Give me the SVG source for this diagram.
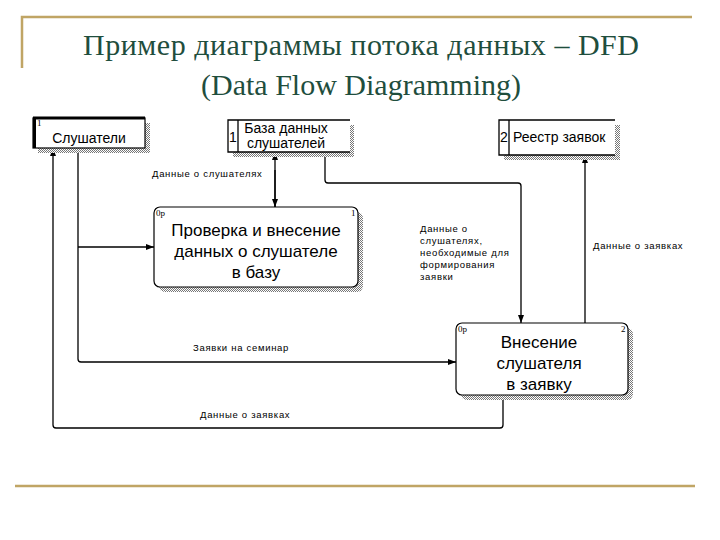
<svg xmlns="http://www.w3.org/2000/svg" width="720" height="540" viewBox="0 0 720 540">
<defs>
<pattern id="hatch" width="2" height="2" patternUnits="userSpaceOnUse">
<rect width="2" height="2" fill="#ffffff"/>
<rect width="1" height="1" fill="#777"/>
<rect x="1" y="1" width="1" height="1" fill="#777"/>
</pattern>
<marker id="arr" viewBox="0 0 8 8" refX="8" refY="4" markerWidth="8" markerHeight="8" markerUnits="userSpaceOnUse" orient="auto">
<path d="M0,1 L8,4 L0,7 Z" fill="#000"/>
</marker>
<style>
.title{font-family:"Liberation Serif",serif;font-size:30px;fill:#1f4e3d;text-anchor:middle}
.gold{stroke:#c0a565;stroke-width:2.5;fill:none}
.box{fill:#fff;stroke:#000;stroke-width:1.2}
.lbl{font-family:"Liberation Sans",Arial,sans-serif;font-size:14px;fill:#000}
.big{font-family:"Liberation Sans",Arial,sans-serif;font-size:17px;fill:#000;text-anchor:middle}
.small{font-family:"Liberation Sans",Arial,sans-serif;font-size:9.5px;fill:#000;letter-spacing:0.7px}
.tiny{font-family:"Liberation Serif",serif;font-size:9px;fill:#000}
.conn{fill:none;stroke:#000;stroke-width:1.3}
</style>
</defs>
<rect width="720" height="540" fill="#fff"/>
<g id="frame">
<path class="gold" d="M22,68 V17 H692"/>
<path class="gold" d="M15,486 H695"/>
</g>
<g id="title">
<text class="title" x="361" y="55" textLength="556">Пример диаграммы потока данных – DFD</text>
<text class="title" x="361" y="95">(Data Flow Diagramming)</text>
</g>
<g id="connectors">
<path class="conn" d="M275,207 V152" marker-end="url(#arr)"/>
<path class="conn" d="M275,170 V207" marker-end="url(#arr)"/>
<path class="conn" d="M325,152 V180 Q325,183 328,183 H518 Q521,183 521,186 V323" marker-end="url(#arr)"/>
<path class="conn" d="M585,323 V155" marker-end="url(#arr)"/>
<path class="conn" d="M78,148 V359 Q78,362 81,362 H456" marker-end="url(#arr)"/>
<path class="conn" d="M78,247 H154" marker-end="url(#arr)"/>
<path class="conn" d="M503,395 V425 Q503,428 500,428 H56 Q53,428 53,425 V148" marker-end="url(#arr)"/>
<text class="small" x="152" y="177">Данные о слушателях</text>
<text class="small" x="420" y="232">Данные о</text>
<text class="small" x="420" y="244">слушателях,</text>
<text class="small" x="420" y="256">необходимые для</text>
<text class="small" x="420" y="268">формирования</text>
<text class="small" x="420" y="280">заявки</text>
<text class="small" x="593" y="249">Данные о заявках</text>
<text class="small" x="193" y="351">Заявки на семинар</text>
<text class="small" x="200" y="418">Данные о заявках</text>
</g>
<g id="listeners">
<rect x="38" y="123" width="112" height="30" fill="url(#hatch)"/>
<rect class="box" x="33" y="118" width="112" height="30"/>
<path d="M33,118 H145 M34.5,118 V148" stroke="#000" stroke-width="3" fill="none"/>
<text class="tiny" x="37" y="126">1</text>
<text class="lbl" x="89" y="143" text-anchor="middle">Слушатели</text>
</g>
<g id="db">
<rect x="233" y="125" width="121" height="32" fill="url(#hatch)"/>
<rect x="228" y="120" width="122" height="32" fill="#fff"/>
<path class="conn" d="M350,120 H228 V152 H350 M238,120 V152"/>
<text class="lbl" x="229" y="142">1</text>
<text class="lbl" x="286" y="133" text-anchor="middle">База данных</text>
<text class="lbl" x="286" y="148" text-anchor="middle">слушателей</text>
</g>
<g id="registry">
<rect x="504" y="125" width="116" height="35" fill="url(#hatch)"/>
<rect x="499" y="120" width="116" height="35" fill="#fff"/>
<path class="conn" d="M615,120 H499 V155 H615 M509,120 V155"/>
<text class="lbl" x="500" y="142">2</text>
<text class="lbl" x="513" y="142">Реестр заявок</text>
</g>
<g id="process1">
<rect x="159" y="212" width="204" height="80" rx="6" fill="url(#hatch)"/>
<rect class="box" x="154" y="207" width="204" height="80" rx="6"/>
<text class="tiny" x="156" y="216">0р</text>
<text class="tiny" x="351" y="216">1</text>
<text class="big" x="256" y="236">Проверка и внесение</text>
<text class="big" x="256" y="257">данных о слушателе</text>
<text class="big" x="256" y="278">в базу</text>
</g>
<g id="process2">
<rect x="461" y="328" width="172" height="72" rx="6" fill="url(#hatch)"/>
<rect class="box" x="456" y="323" width="172" height="72" rx="6"/>
<text class="tiny" x="458" y="332">0р</text>
<text class="tiny" x="621" y="332">2</text>
<text class="big" x="539" y="348">Внесение</text>
<text class="big" x="539" y="369">слушателя</text>
<text class="big" x="539" y="390">в заявку</text>
</g>
</svg>
